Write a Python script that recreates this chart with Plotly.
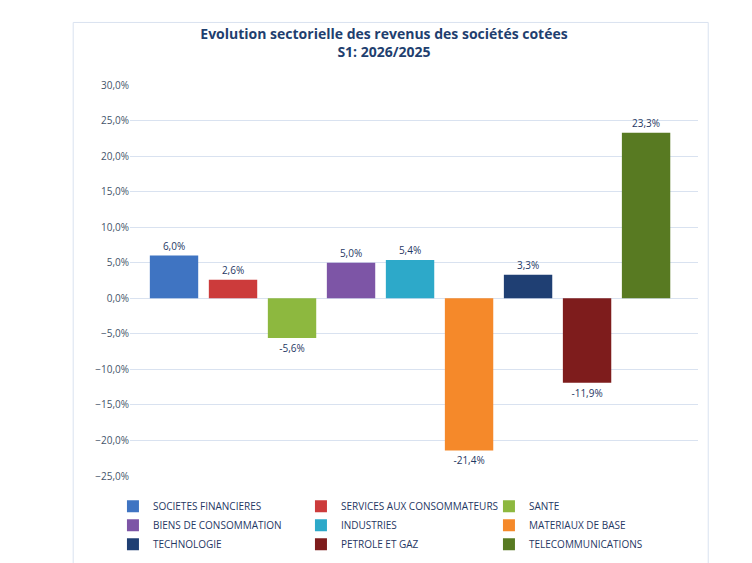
import plotly.graph_objects as go

# Sectors and revenue change, S1 2026 vs 2025 (fractions)
sectors = ["SOCIETES FINANCIERES", "SERVICES AUX CONSOMMATEURS", "SANTE",
           "BIENS DE CONSOMMATION", "INDUSTRIES", "MATERIAUX DE BASE",
           "TECHNOLOGIE", "PETROLE ET GAZ", "TELECOMMUNICATIONS"]
values = [0.060, 0.026, -0.056, 0.050, 0.054, -0.214, 0.033, -0.119, 0.233]
colors = ["#3F74C2", "#CC3B3B", "#8DB83F", "#7D55A6", "#2DA9C9",
          "#F5892A", "#1F3F73", "#7E1C1C", "#587A22"]

fig = go.Figure()
for i, (name, v, c) in enumerate(zip(sectors, values, colors)):
    fig.add_trace(go.Bar(
        x=[i], y=[v], name=name, width=0.82,
        marker=dict(color=c, line=dict(width=0)),
        texttemplate="%{y:.1%}", textposition="outside",
        textfont=dict(size=10, color="#1F3864"), cliponaxis=False,
    ))

fig.update_layout(
    width=752, height=563,
    paper_bgcolor="white", plot_bgcolor="white",
    separators=", ",
    font=dict(family="Open Sans", color="#1F3864"),
    title=dict(text="<b>Evolution sectorielle des revenus des sociétés cotées<br>S1: 2026/2025</b>",
               x=0.5, xanchor="center", y=0.945, yanchor="top",
               font=dict(size=14, color="#1F3F6F")),
    margin=dict(l=122, r=62, t=77, b=81),
    barmode="overlay",
    showlegend=True,
    legend=dict(orientation="h", x=-0.03, xanchor="left", y=-0.04, yanchor="top",
                entrywidth=143, entrywidthmode="pixels",
                font=dict(size=10, color="#1F3864"), itemwidth=30,
                tracegroupgap=0),
    xaxis=dict(range=[-0.746, 8.88], showticklabels=False, showgrid=False,
               zeroline=False, fixedrange=True),
    yaxis=dict(range=[-0.25, 0.30], dtick=0.05, tickformat=".1%",
               gridcolor="#D9E2F0", gridwidth=1, zeroline=False,
               tickfont=dict(size=10, color="#44546A"), ticks="", showline=False),
    shapes=[dict(type="rect", xref="paper", yref="paper",
                 x0=-0.1, x1=1.018, y0=-0.3, y1=1.16,
                 line=dict(color="#D9E2F0", width=1), layer="below")],
)

fig.write_html("out.html")
